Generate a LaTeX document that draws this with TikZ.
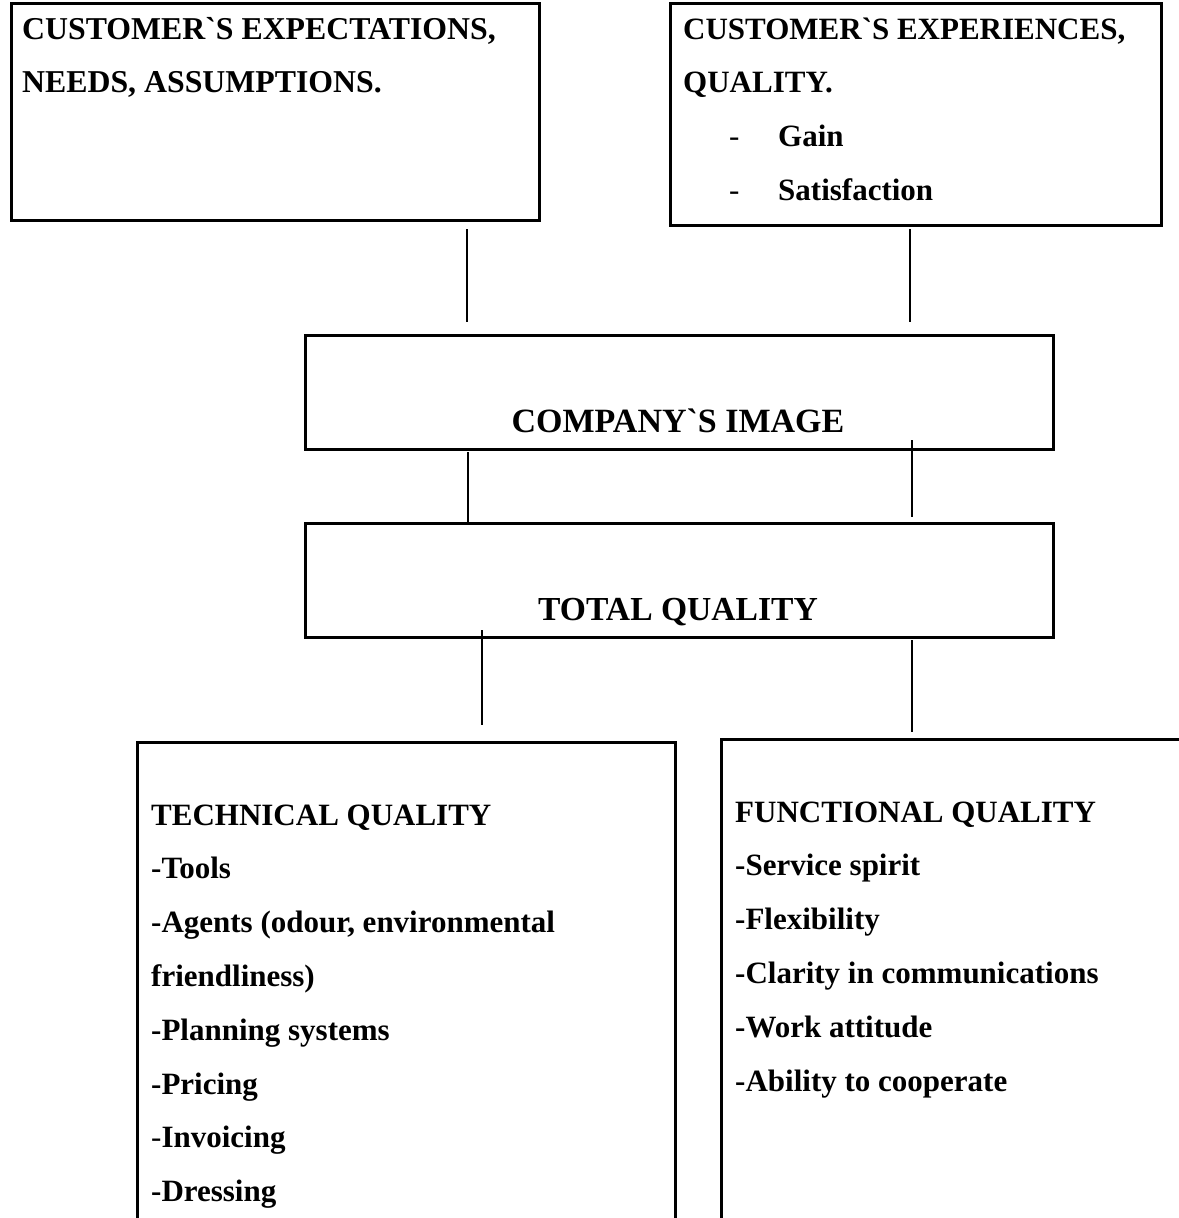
\documentclass[tikz,border=0pt]{standalone}
\font\tnrb="Liberation Serif/B" at 31pt
\font\tnrbtl="Liberation Serif/B" at 31.8pt
\font\tnrbig="Liberation Serif/B" at 34pt
\font\tnrbtot="Liberation Serif/B" at 33.6pt
\font\tnr="Liberation Serif" at 31pt
\begin{document}
\begin{tikzpicture}[x=1pt,y=-1pt,
  box/.style={draw, line width=2.5pt, rectangle, anchor=north west, inner sep=0pt},
  conn/.style={line width=1.5pt},
  lbl/.style={anchor=base west, inner sep=0pt, font=\tnrb},
  ctr/.style={anchor=base, inner sep=0pt, font=\tnrbig}]
\useasboundingbox (0,0) rectangle (1178,1218);
\fill[white] (0,0) rectangle (1178,1218);

% boxes
\node[box, minimum width=528pt, minimum height=217pt] (tl) at (10,2) {};
\node[box, minimum width=491pt, minimum height=222pt] (tr) at (669,2) {};
\node[box, minimum width=748pt, minimum height=114pt] (img) at (304,334) {};
\node[box, minimum width=748pt, minimum height=114pt] (tot) at (304,522) {};
\node[box, minimum width=538pt, minimum height=520pt] (tech) at (136,741) {};
\node[box, minimum width=500pt, minimum height=520pt] (func) at (720,738) {};

% texts
\node[lbl, font=\tnrbtl] (tl1) at (22,39) {CUSTOMER`S EXPECTATIONS,};
\node[lbl, font=\tnrbtl] (tl2) at (22,92) {NEEDS, ASSUMPTIONS.};

\node[lbl] (tr1) at (683,39) {CUSTOMER`S EXPERIENCES,};
\node[lbl] (tr2) at (683,92) {QUALITY.};
\node[lbl, font=\tnr] (trd1) at (729,146) {-};
\node[lbl] (tr3) at (778,146) {Gain};
\node[lbl, font=\tnr] (trd2) at (729,200) {-};
\node[lbl] (tr4) at (778,200) {Satisfaction};

\node[ctr] (imgt) at (678,432) {COMPANY`S IMAGE};
\node[ctr, font=\tnrbtot] (tott) at (678,620) {TOTAL QUALITY};

\node[lbl] (te1) at (151,825) {TECHNICAL QUALITY};
\node[lbl] (te2) at (151,878) {-Tools};
\node[lbl] (te3) at (151,932) {-Agents (odour, environmental};
\node[lbl] (te4) at (151,986) {friendliness)};
\node[lbl] (te5) at (151,1040) {-Planning systems};
\node[lbl] (te6) at (151,1094) {-Pricing};
\node[lbl] (te7) at (151,1147) {{\tnr -}Invoicing};
\node[lbl] (te8) at (151,1201) {-Dressing};

\node[lbl] (fu1) at (735,822) {FUNCTIONAL QUALITY};
\node[lbl] (fu2) at (735,875) {-Service spirit};
\node[lbl] (fu3) at (735,929) {-Flexibility};
\node[lbl] (fu4) at (735,983) {-Clarity in communications};
\node[lbl] (fu5) at (735,1037) {-Work attitude};
\node[lbl] (fu6) at (735,1091) {-Ability to cooperate};

% connector ends
\coordinate (c1a) at (467,229); \coordinate (c1b) at (467,322);
\coordinate (c2a) at (910,229); \coordinate (c2b) at (910,322);
\coordinate (c3a) at (468,452); \coordinate (c3b) at (468,523);
\coordinate (c4a) at (912,440); \coordinate (c4b) at (912,517);
\coordinate (c5a) at (482,630); \coordinate (c5b) at (482,725);
\coordinate (c6a) at (912,640); \coordinate (c6b) at (912,732);

\draw[conn] (c1a) -- (c1b);
\draw[conn] (c2a) -- (c2b);
\draw[conn] (c3a) -- (c3b);
\draw[conn] (c4a) -- (c4b);
\draw[conn] (c5a) -- (c5b);
\draw[conn] (c6a) -- (c6b);
\end{tikzpicture}
\end{document}
